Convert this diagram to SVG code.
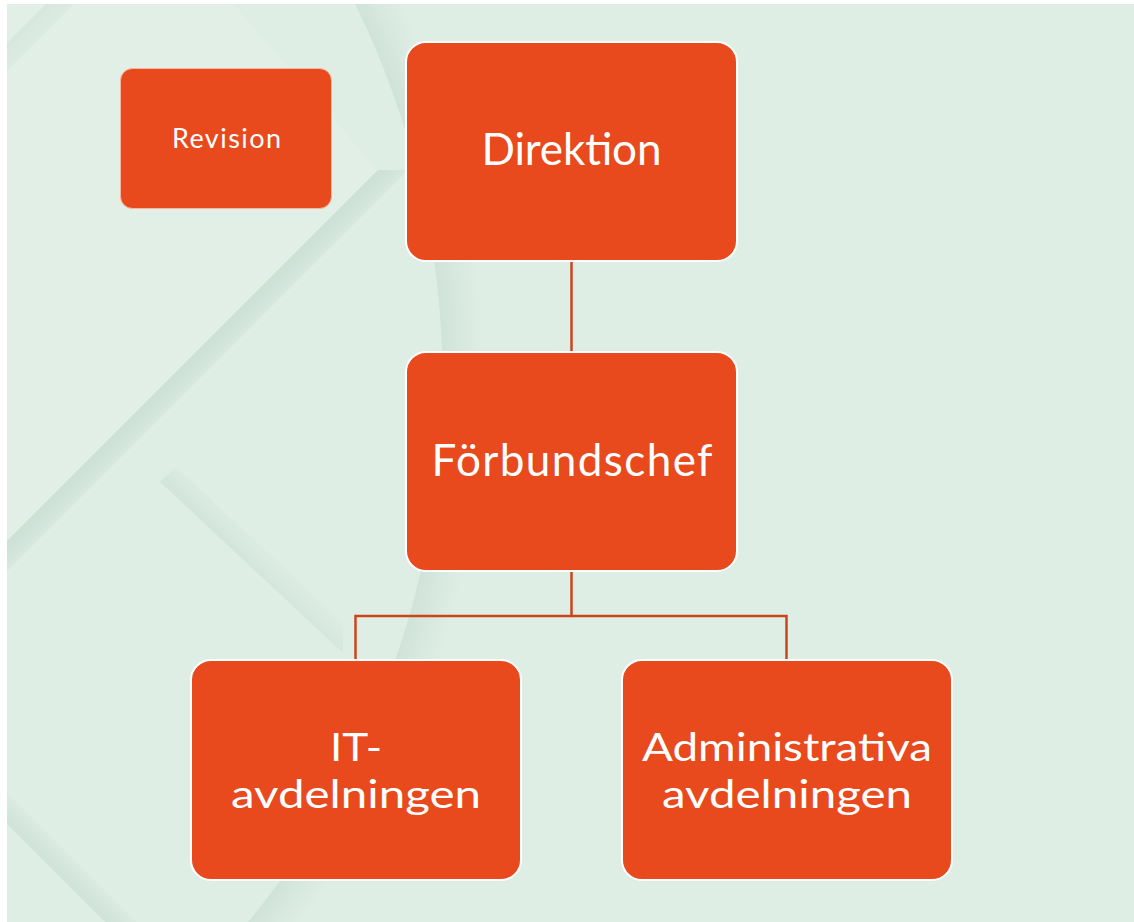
<svg xmlns="http://www.w3.org/2000/svg" width="1134" height="922" viewBox="0 0 1134 922">
  <style>
    .box { fill: #E8491D; stroke: #FFFFFF; stroke-width: 2; }
    .box-small { fill: #E8491D; stroke: #F6B79F; stroke-width: 1; }
    .label { fill: #FFFFFF; font-family: Lato, "Open Sans", "Liberation Sans", sans-serif; font-size: 44px; text-anchor: middle; }
    .label-two { fill: #FFFFFF; font-family: Lato, "Open Sans", "Liberation Sans", sans-serif; font-size: 39px; text-anchor: middle; }
    .label-small { fill: #FFFFFF; font-family: Lato, "Open Sans", "Liberation Sans", sans-serif; font-size: 27px; text-anchor: middle; }
    .link { fill: none; stroke: #CB441C; stroke-width: 2.5; stroke-linecap: butt; }
  </style>
  <defs>
    <!-- soft shadows along the faint background facets -->
    <linearGradient id="shadeChevron" gradientUnits="userSpaceOnUse" x1="200" y1="348" x2="226" y2="374">
      <stop offset="0" stop-color="#B9D2C4" stop-opacity="0.5"/>
      <stop offset="1" stop-color="#B9D2C4" stop-opacity="0"/>
    </linearGradient>
    <linearGradient id="shadeCorner" gradientUnits="userSpaceOnUse" x1="26" y1="24" x2="50" y2="48">
      <stop offset="0" stop-color="#B9D2C4" stop-opacity="0.45"/>
      <stop offset="1" stop-color="#B9D2C4" stop-opacity="0"/>
    </linearGradient>
    <linearGradient id="shadeMid" gradientUnits="userSpaceOnUse" x1="250" y1="566" x2="272" y2="544">
      <stop offset="0" stop-color="#B9D2C4" stop-opacity="0.3"/>
      <stop offset="1" stop-color="#B9D2C4" stop-opacity="0"/>
    </linearGradient>
    <linearGradient id="shadeLow" gradientUnits="userSpaceOnUse" x1="56" y1="873" x2="78" y2="851">
      <stop offset="0" stop-color="#B9D2C4" stop-opacity="0.4"/>
      <stop offset="1" stop-color="#B9D2C4" stop-opacity="0"/>
    </linearGradient>
    <radialGradient id="shadeArc" gradientUnits="userSpaceOnUse" cx="-410" cy="380" r="895">
      <stop offset="0" stop-color="#B9D2C4" stop-opacity="0"/>
      <stop offset="0.952" stop-color="#B9D2C4" stop-opacity="0"/>
      <stop offset="0.953" stop-color="#B9D2C4" stop-opacity="0.38"/>
      <stop offset="1" stop-color="#B9D2C4" stop-opacity="0"/>
    </radialGradient>
    <clipPath id="panel">
      <rect x="7" y="4" width="1127" height="918"/>
    </clipPath>
  </defs>

  <!-- page and panel background -->
  <rect x="0" y="0" width="1134" height="922" fill="#FFFFFF"/>
  <rect x="7" y="4" width="1127" height="918" fill="#DFEEE5"/>

  <!-- decorative background facets -->
  <g id="backdrop" clip-path="url(#panel)">
    <circle cx="-410" cy="380" r="895" fill="url(#shadeArc)"/>
    <polygon points="7,43 46,4 74,4 7,71" fill="url(#shadeCorner)"/>
    <polygon points="233,3 378,170 7,541 7,4" fill="#E3F0E8" opacity="0.4"/>
    <polygon points="378,170 7,541 7,571 408,170" fill="url(#shadeChevron)"/>
    <polygon points="160,482 343,653 343,622 176,467" fill="url(#shadeMid)"/>
    <polygon points="7,824 105,922 136,922 7,793" fill="url(#shadeLow)"/>
  </g>

  <!-- connectors -->
  <g id="connectors">
    <line class="link" x1="571.5" y1="262" x2="571.5" y2="352"/>
    <polyline class="link" points="571.5,571 571.5,616 355.5,616 355.5,660"/>
    <polyline class="link" points="571.5,616 786.5,616 786.5,660"/>
  </g>

  <!-- nodes -->
  <g id="node-revision">
    <rect class="box-small" x="120.5" y="68.5" width="211" height="140" rx="12" ry="12"/>
    <text class="label-small" x="226.5" y="148" textLength="109" lengthAdjust="spacing">Revision</text>
  </g>

  <g id="node-direktion">
    <rect class="box" x="406" y="42" width="331" height="219" rx="20" ry="20"/>
    <text class="label" x="571.5" y="165" textLength="180" lengthAdjust="spacing">Direktion</text>
  </g>

  <g id="node-forbundschef">
    <rect class="box" x="406" y="352" width="331" height="219" rx="20" ry="20"/>
    <text class="label" x="572" y="476" textLength="281" lengthAdjust="spacing">Förbundschef</text>
  </g>

  <g id="node-it">
    <rect class="box" x="191" y="660" width="330" height="220" rx="20" ry="20"/>
    <text class="label-two" x="356" y="760.5" textLength="52" lengthAdjust="spacingAndGlyphs">IT-</text>
    <text class="label-two" x="356" y="807.5" textLength="250" lengthAdjust="spacingAndGlyphs">avdelningen</text>
  </g>

  <g id="node-admin">
    <rect class="box" x="622" y="660" width="330" height="220" rx="20" ry="20"/>
    <text class="label-two" x="787" y="760.5" textLength="290" lengthAdjust="spacingAndGlyphs">Administrativa</text>
    <text class="label-two" x="787" y="807.5" textLength="250" lengthAdjust="spacingAndGlyphs">avdelningen</text>
  </g>
</svg>
